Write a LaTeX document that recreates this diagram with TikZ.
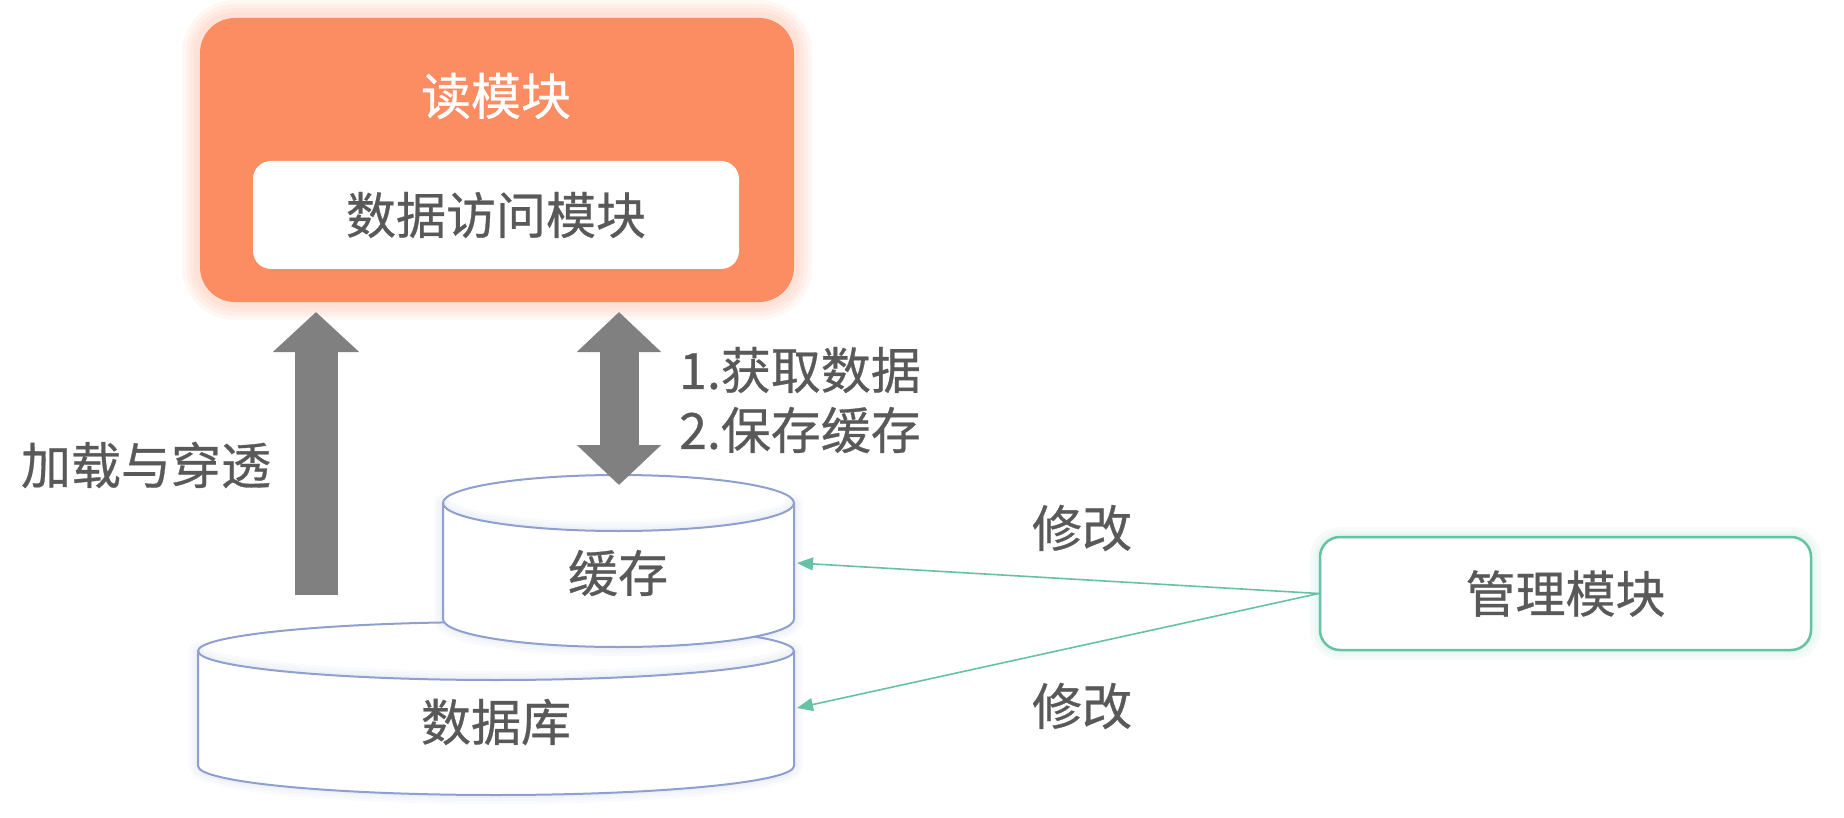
\documentclass[tikz,border=0pt]{standalone}
\usepackage{fontspec}
\newfontfamily\cjk[FakeBold=0.6]{Noto Sans CJK SC}
\usetikzlibrary{arrows.meta}
\definecolor{orangeA}{HTML}{FC8D62}
\definecolor{txt}{HTML}{595959}
\definecolor{arr}{HTML}{808080}
\definecolor{cylb}{HTML}{8FA0CF}
\definecolor{grn}{HTML}{66C2A5}
\begin{document}
\begin{tikzpicture}[x=1pt,y=-1pt,
  lbl/.style={font=\cjk\fontsize{50}{60}\selectfont, text=txt, inner sep=0pt},
  cyl/.style={draw=cylb, line width=2pt, fill=white},
  blockarrow/.style={draw=arr, line width=#1},
  greenline/.style={draw=grn, line width=1.6pt, -{Triangle[length=16pt,width=13pt]}}]
\useasboundingbox (0,0) rectangle (1844,818);

% glow of read module
\foreach \w in {36,28,20,12} \draw[orangeA, opacity=0.07, line width=\w pt, rounded corners=35pt] (200,18) rectangle (794,302);
\node[fill=orangeA, rounded corners=35pt, minimum width=594pt, minimum height=284pt, inner sep=0pt] (read) at (497,160) {};
\node[lbl, text=white] (readtitle) at (496,96) {读模块};
\node[lbl, fill=white, rounded corners=18pt, minimum width=486pt, minimum height=108pt] (dao) at (496,215) {数据访问模块};

% database cylinder
\foreach \w in {18,12,6} \draw[cylb, opacity=0.05, line width=\w pt, line join=round] (198,651) -- (198,766) arc (180:0:298 and 29) -- (794,651) arc (0:180:298 and 29) -- cycle;
\path[cyl, draw=none] (198,651) -- (198,766) arc (180:0:298 and 29) -- (794,651) arc (0:180:298 and 29) -- cycle;
\draw[cylb, line width=2pt] (496,651) ellipse (298 and 29);
\draw[cylb, line width=2pt] (198,651) -- (198,766) arc (180:0:298 and 29) -- (794,651);
\node[lbl] (dblabel) at (496,722) {数据库};

% cache cylinder
\foreach \w in {18,12,6} \draw[cylb, opacity=0.05, line width=\w pt, line join=round] (443,503) -- (443,619) arc (180:0:175.5 and 28) -- (794,503) arc (0:180:175.5 and 28) -- cycle;
\path[cyl, draw=none] (443,503) -- (443,619) arc (180:0:175.5 and 28) -- (794,503) arc (0:180:175.5 and 28) -- cycle;
\draw[cylb, line width=2pt] (618.5,503) ellipse (175.5 and 28);
\draw[cylb, line width=2pt] (443,503) -- (443,619) arc (180:0:175.5 and 28) -- (794,503);
\node[lbl] (cachelabel) at (618,573) {缓存};

% block arrows
\coordinate (lbot) at (316,595);
\coordinate (ltop) at (316,312);
\coordinate (dtop) at (619,312);
\coordinate (dbot) at (619,485);
\draw[blockarrow=43pt, -{Triangle[length=40pt,width=84pt]}] (lbot) -- (ltop);
\draw[blockarrow=39pt, {Triangle[length=40pt,width=82pt]}-{Triangle[length=40pt,width=82pt]}] (dtop) -- (dbot);

\node[lbl, anchor=center] (loadlbl) at (146,465) {加载与穿透};
\node[lbl, anchor=west, align=left] (steps) at (679,400) {1.获取数据\\2.保存缓存};

% management module
\foreach \w in {20,12,6} \draw[grn, opacity=0.06, line width=\w pt, rounded corners=20pt] (1320,537) rectangle (1811,650);
\node[lbl, draw=grn, line width=2.5pt, fill=white, rounded corners=20pt, minimum width=491pt, minimum height=113pt] (mgmt) at (1565.5,593.5) {管理模块};

\coordinate (cacheR) at (797,563);
\coordinate (dbR) at (797,708);
\draw[greenline] (mgmt.west) -- (cacheR);
\draw[greenline] (mgmt.west) -- (dbR);
\node[lbl] (mod1) at (1082,528) {修改};
\node[lbl] (mod2) at (1082,706) {修改};
\end{tikzpicture}
\end{document}
